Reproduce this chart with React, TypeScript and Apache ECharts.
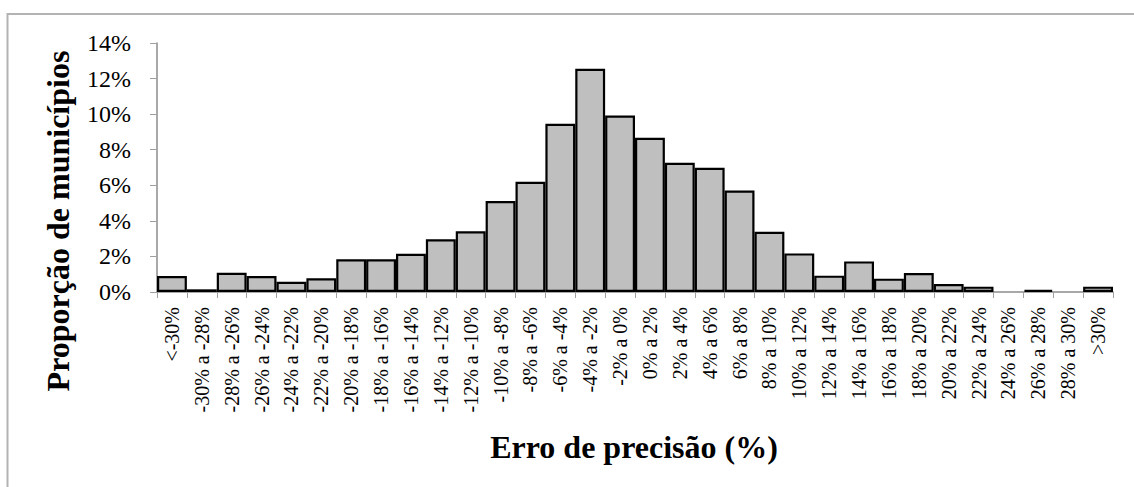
import React, { useEffect, useRef } from "react";
import * as echarts from "echarts";

const categories: string[] = [
  "<-30%", "-30% a -28%", "-28% a -26%", "-26% a -24%", "-24% a -22%", "-22% a -20%",
  "-20% a -18%", "-18% a -16%", "-16% a -14%", "-14% a -12%", "-12% a -10%", "-10% a -8%",
  "-8% a -6%", "-6% a -4%", "-4% a -2%", "-2% a 0%", "0% a 2%", "2% a 4%", "4% a 6%",
  "6% a 8%", "8% a 10%", "10% a 12%", "12% a 14%", "14% a 16%", "16% a 18%", "18% a 20%",
  "20% a 22%", "22% a 24%", "24% a 26%", "26% a 28%", "28% a 30%", ">30%",
];

const proportions: number[] = [
  0.9, 0.15, 1.08, 0.9, 0.58, 0.77, 1.84, 1.84, 2.15, 2.96, 3.41, 5.11, 6.2, 9.46, 12.55,
  9.92, 8.67, 7.27, 6.98, 5.71, 3.39, 2.17, 0.92, 1.72, 0.75, 1.07, 0.45, 0.3, 0, 0.12, 0, 0.3,
];

const yTicks = { min: 0, max: 14, interval: 2 };
const xTitle = "Erro de precisão (%)";
const yTitle = "Proporção de municípios";

const FONT = "Liberation Serif";

export default function App() {
  const ref = useRef<HTMLDivElement>(null);
  useEffect(() => {
    if (!ref.current) return;
    const chart = echarts.init(ref.current, null, { renderer: "svg" });
    chart.setOption({
      animation: false,
      backgroundColor: "#ffffff",
      grid: { left: 157, right: 21, top: 43, bottom: 195, containLabel: false },
      xAxis: {
        type: "category",
        data: categories,
        axisLine: { show: true, lineStyle: { color: "#8c8c8c", width: 1.5 } },
        axisTick: { show: true, length: 6, lineStyle: { color: "#a0a0a0", width: 1 } },
        axisLabel: {
          rotate: 90,
          interval: 0,
          margin: 15,
          fontSize: 20,
          fontFamily: FONT,
          color: "#000000",
        },
      },
      yAxis: {
        type: "value",
        min: yTicks.min,
        max: yTicks.max,
        interval: yTicks.interval,
        splitLine: { show: false },
        axisLine: { show: true, lineStyle: { color: "#8c8c8c", width: 1.5 } },
        axisTick: { show: true, length: 7, lineStyle: { color: "#a0a0a0", width: 1 } },
        axisLabel: {
          margin: 26,
          fontSize: 24,
          fontFamily: FONT,
          color: "#000000",
          formatter: "{value}%",
        },
      },
      series: [
        {
          type: "bar",
          data: proportions.map((v) => (v === 0 ? "-" : v)),
          barCategoryGap: "0%",
          itemStyle: { color: "#bfbfbf", borderColor: "#000000", borderWidth: 2.2 },
        },
      ],
      graphic: [
        {
          type: "rect",
          shape: { x: 7.5, y: 14, width: 1300, height: 700 },
          style: { fill: "none", stroke: "#b3b3b3", lineWidth: 2 },
          silent: true,
        },
        {
          type: "text",
          x: 58,
          y: 221,
          rotation: Math.PI / 2,
          style: {
            text: yTitle,
            fontSize: 32,
            fontWeight: "bold",
            fontFamily: FONT,
            fill: "#000000",
            align: "center",
            verticalAlign: "middle",
          },
        },
        {
          type: "text",
          x: 634,
          y: 447,
          style: {
            text: xTitle,
            fontSize: 32,
            fontWeight: "bold",
            fontFamily: FONT,
            fill: "#000000",
            align: "center",
            verticalAlign: "middle",
          },
        },
      ],
    });
    return () => chart.dispose();
  }, []);
  return (
    <div
      ref={ref}
      style={{ position: "fixed", left: 0, top: 0, width: 1134, height: 487 }}
    />
  );
}
